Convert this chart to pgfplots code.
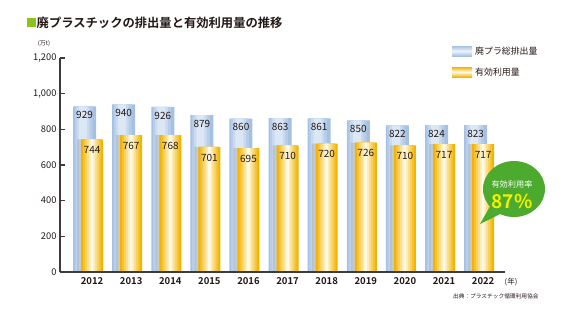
\documentclass[border=0pt]{standalone}
\usepackage{fontspec}
\setmainfont{Noto Sans CJK JP}[BoldFont={Noto Sans CJK JP Bold}]
\usepackage{pgfplots}
\usepackage{pgfplotstable}
\pgfplotsset{compat=1.18}
\definecolor{txt}{HTML}{231815}
\definecolor{axl}{HTML}{3C3C3C}
\definecolor{bluea}{HTML}{A4C0E3}
\definecolor{blueb}{HTML}{EEF4FB}
\definecolor{yela}{HTML}{F3B400}
\definecolor{yelb}{HTML}{FFFBE8}
\definecolor{gsq}{HTML}{8DC21F}
\definecolor{bub}{HTML}{4CAA2E}
\definecolor{pct}{HTML}{F2F000}
\pgfplotstableread{
x tot use
0 929 744
1 940 767
2 926 768
3 879 701
4 860 695
5 863 710
6 861 720
7 850 726
8 822 710
9 824 717
10 823 717
}\data
\pgfplotsset{
  bl/.style={ybar, bar shift=-7.5bp, draw=none, bar width=#1},
  yl/.style={ybar, bar shift=0bp, draw=none, bar width=#1},
  lab/.style={nodes near coords,
    nodes near coords style={anchor=north, font=\fontsize{10bp}{12bp}\selectfont, text=txt}},
}
\begin{document}
\begin{tikzpicture}
\useasboundingbox (0,0) rectangle (568bp,-330bp);
% title
\fill[gsq] (27bp,-18bp) rectangle (36bp,-27bp);
\node[anchor=west, inner sep=0pt, font=\fontsize{12.3bp}{14bp}\selectfont\bfseries, text=txt] at (36.5bp,-22.5bp) {廃プラスチックの排出量と有効利用量の推移};
\begin{axis}[
  at={(60bp,-272bp)}, anchor=south west,
  scale only axis, width=445bp, height=214bp,
  xmin=-0.82, xmax=10.56, ymin=0, ymax=1200,
  axis x line*=bottom, axis y line*=left,
  axis line style={line width=1.3bp, color=axl, -},
  xtick={0,1,2,3,4,5,6,7,8,9,10},
  xticklabels={2012,2013,2014,2015,2016,2017,2018,2019,2020,2021,2022},
  xtick style={draw=none},
  ytick={0,200,400,600,800,1000,1200},
  yticklabels={0,200,400,600,800,{1,000},{1,200}},
  ytick style={color=axl, line width=1.2bp},
  tick align=inside, major tick length=5bp,
  /pgf/number format/assume math mode=true,
  xticklabel style={font=\fontsize{9.5bp}{11bp}\selectfont\bfseries, text=txt, yshift=-1.5bp},
  yticklabel style={font=\fontsize{9.3bp}{11bp}\selectfont, text=txt},
  clip=false,
  axis on top,
]
% total plastic waste (blue), layered to imitate a gradient
\addplot[bl=23bp, fill=bluea] table[x=x, y=tot] {\data};
\addplot[bl=18bp, fill=bluea!75!blueb, bar shift=-8.5bp] table[x=x, y=tot] {\data};
\addplot[bl=13bp, fill=bluea!50!blueb, bar shift=-9bp] table[x=x, y=tot] {\data};
\addplot[bl=8bp, fill=bluea!25!blueb, bar shift=-9bp, lab,
  nodes near coords style={xshift=-7.5bp, yshift=-1.5bp}] table[x=x, y=tot] {\data};
% shadow of effective use bars
\addplot[ybar, bar width=23bp, bar shift=-3.5bp, draw=none, fill=black!45, fill opacity=0.3] table[x=x, y=use] {\data};
% effective use (yellow), layered
\addplot[yl=22bp, fill=yela] table[x=x, y=use] {\data};
\addplot[yl=18bp, fill=yela!80!yelb] table[x=x, y=use] {\data};
\addplot[yl=14bp, fill=yela!60!yelb] table[x=x, y=use] {\data};
\addplot[yl=10bp, fill=yela!40!yelb] table[x=x, y=use] {\data};
\addplot[yl=6bp, fill=yela!20!yelb] table[x=x, y=use] {\data};
\addplot[yl=2.5bp, fill=yelb, lab,
  nodes near coords style={yshift=-3.5bp}] table[x=x, y=use] {\data};
\end{axis}
% units
\node[font=\fontsize{6bp}{7bp}\selectfont, text=txt] at (44bp,-44bp) {(万t)};
\node[font=\fontsize{7.5bp}{9bp}\selectfont, text=txt] at (511bp,-282bp) {(年)};
\node[anchor=east, font=\fontsize{5.7bp}{7bp}\selectfont, text=txt] at (542bp,-296bp) {出典：プラスチック循環利用協会};
% legend
\shade[top color=bluea, bottom color=bluea, middle color=blueb] (452bp,-46bp) rectangle (472bp,-56bp);
\shade[top color=yela, bottom color=yela, middle color=yelb] (452bp,-67bp) rectangle (472bp,-77bp);
\node[anchor=west, inner sep=0pt, font=\fontsize{8.9bp}{10bp}\selectfont, text=txt] at (475bp,-51bp) {廃プラ総排出量};
\node[anchor=west, inner sep=0pt, font=\fontsize{8.9bp}{10bp}\selectfont, text=txt] at (475bp,-72bp) {有効利用量};
% bubble
\fill[bub] (514bp,-189bp) ellipse [x radius=31bp, y radius=28bp];
\fill[bub] (492bp,-203bp) -- (480bp,-224bp) -- (504bp,-212bp) -- cycle;
\node[font=\fontsize{8.2bp}{10bp}\selectfont, text=white] at (512bp,-184bp) {有効利用率};
\node[font=\fontsize{19bp}{21bp}\selectfont\bfseries, text=pct] at (512bp,-201bp) {87\%};
\end{tikzpicture}
\end{document}
